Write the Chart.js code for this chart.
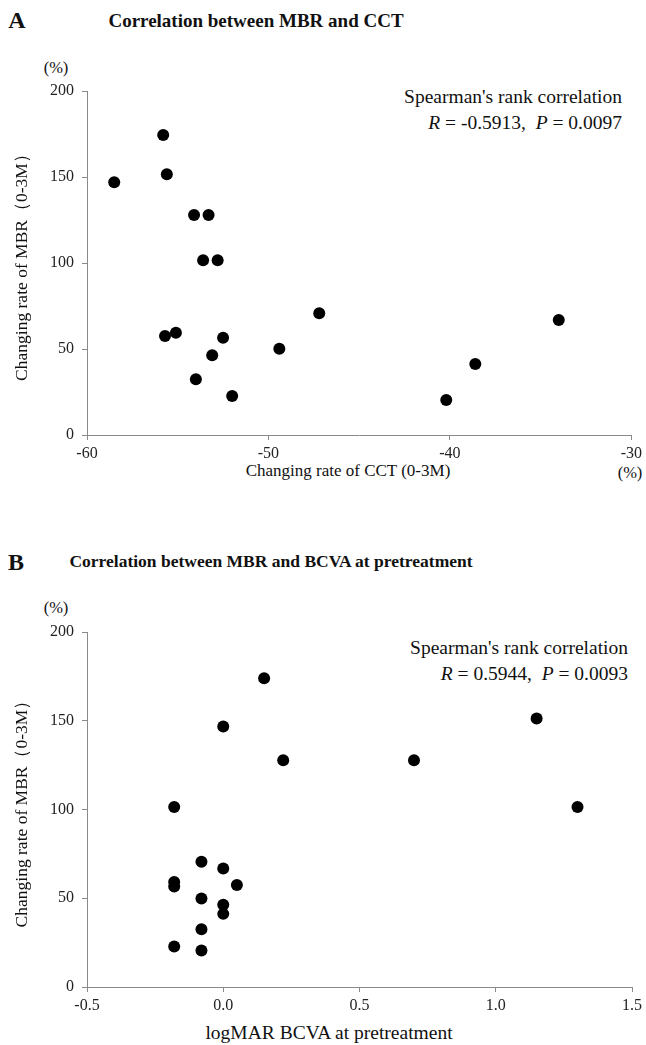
<!DOCTYPE html>
<html>
<head>
<meta charset="utf-8">
<script src="https://cdn.jsdelivr.net/npm/chart.js@4.4.1/dist/chart.umd.min.js"></script>
<style>
  body { margin: 0; background: #fff; }
  #page { position: relative; width: 646px; height: 1045px; overflow: hidden;
          font-family: "Liberation Serif", "Times New Roman", serif; color: #111; }
  .t { position: absolute; white-space: nowrap; line-height: 1; }
  .c { transform: translate(-50%, -50%); }
  .r { transform: translateY(-50%); text-align: right; }
  .panel { font-weight: bold; font-size: 24px; }
  .title { font-weight: bold; font-size: 19px; }
  .note { font-size: 19.5px; }
  .unit { font-size: 16.5px; }
  canvas { position: absolute; left: 0; }
</style>
</head>
<body>
<div id="page">
  <!-- panel A -->
  <div class="t c panel" style="left:17px; top:20px;">A</div>
  <div class="t c title" style="left:256px; top:20px;">Correlation between MBR and CCT</div>
  <div class="t c unit" style="left:56px; top:68px;">(%)</div>
  <div class="t r note" style="right:24px; top:97px;">Spearman's rank correlation</div>
  <div class="t r note" style="right:24px; top:123px;"><i>R</i> = -0.5913,&nbsp; <i>P</i> = 0.0097</div>
  <div class="t c" style="left:348px; top:470px; font-size:17px;">Changing rate of CCT (0-3M)</div>
  <div class="t c unit" style="left:630px; top:473px;">(%)</div>
  <canvas id="chartA" width="646" height="460" style="top:40px;"></canvas>

  <!-- panel B -->
  <div class="t c panel" style="left:16px; top:562px;">B</div>
  <div class="t c title" style="left:271px; top:562px; font-size:17.5px;">Correlation between MBR and BCVA at pretreatment</div>
  <div class="t c unit" style="left:56px; top:608px;">(%)</div>
  <div class="t r note" style="right:18px; top:648px;">Spearman's rank correlation</div>
  <div class="t r note" style="right:18px; top:674px;"><i>R</i> = 0.5944,&nbsp; <i>P</i> = 0.0093</div>
  <div class="t c" style="left:329px; top:1033px; font-size:19.5px;">logMAR BCVA at pretreatment</div>
  <canvas id="chartB" width="646" height="485" style="top:560px;"></canvas>
</div>

<script>
// values
const cctChange = [-58.5, -55.8, -55.6, -54.1, -53.3, -53.6, -52.8, -55.7, -55.1,
                   -52.5, -53.1, -54.0, -52.0, -49.4, -47.2, -38.6, -40.2, -34.0];
const mbrA      = [147.0, 174.4, 151.6, 127.9, 127.9, 101.6, 101.6, 57.6, 59.5,
                   56.6, 46.3, 32.4, 22.7, 50.2, 70.8, 41.3, 20.3, 66.9];

const bcva = [0.15, 0.0, 0.22, -0.18, -0.08, 0.0, -0.18, -0.18, 0.05,
              -0.08, 0.0, 0.0, -0.08, -0.18, -0.08, 1.15, 0.70, 1.30];
const mbrB = [174.0, 146.8, 127.7, 101.4, 70.5, 66.7, 59.2, 56.6, 57.4,
              49.8, 46.3, 41.2, 32.6, 22.8, 20.6, 151.3, 127.7, 101.4];

const yTicks  = ['0', '50', '100', '150', '200'];
const xTicksA = ['-60', '-50', '-40', '-30'];
const xTicksB = ['-0.5', '0.0', '0.5', '1.0', '1.5'];

const SERIF = '"Liberation Serif", "Times New Roman", serif';
const AXIS = '#8a8a8a';

function toPoints(xs, ys) {
  return xs.map((x, i) => ({ x: x, y: ys[i] }));
}

// build one scatter panel; area = wanted chart area inside the canvas
function makeScatter(id, points, x, area) {
  const canvas = document.getElementById(id);
  return new Chart(canvas.getContext('2d'), {
    type: 'scatter',
    data: {
      datasets: [{
        data: points,
        pointRadius: 6,
        pointBackgroundColor: '#000',
        pointBorderColor: '#000',
        pointBorderWidth: 0
      }]
    },
    options: {
      responsive: false,
      animation: false,
      layout: {
        autoPadding: false,
        padding: { top: area.top, right: canvas.width - area.right, left: 0, bottom: 0 }
      },
      plugins: { legend: { display: false }, tooltip: { enabled: false } },
      scales: {
        x: {
          type: 'linear',
          min: x.min, max: x.max,
          afterFit: s => { s.height = canvas.height - area.bottom; },
          border: { display: true, color: AXIS, width: 1 },
          grid: { drawOnChartArea: false, drawTicks: true, tickLength: 5, color: AXIS },
          ticks: {
            stepSize: x.step,
            color: '#222',
            font: { family: SERIF, size: 16 },
            padding: 4,
            maxRotation: 0,
            callback: (v, i) => x.labels[i]
          }
        },
        y: {
          type: 'linear',
          min: 0, max: 200,
          afterFit: s => { s.width = area.left; },
          border: { display: true, color: AXIS, width: 1 },
          grid: { drawOnChartArea: false, drawTicks: true, tickLength: 5, color: AXIS },
          ticks: {
            stepSize: 50,
            color: '#222',
            font: { family: SERIF, size: 16 },
            padding: 8,
            callback: (v, i) => yTicks[i]
          },
          title: {
            display: true,
            text: 'Changing rate of MBR（0-3M）',
            color: '#111',
            font: { family: SERIF, size: 17.5 },
            padding: { top: 12, bottom: 0 }
          }
        }
      }
    }
  });
}

makeScatter('chartA', toPoints(cctChange, mbrA),
  { min: -60, max: -30, step: 10, labels: xTicksA },
  { left: 87, right: 632, top: 51, bottom: 395 });

makeScatter('chartB', toPoints(bcva, mbrB),
  { min: -0.5, max: 1.5, step: 0.5, labels: xTicksB },
  { left: 87, right: 637, top: 72, bottom: 427 });
</script>
</body>
</html>
